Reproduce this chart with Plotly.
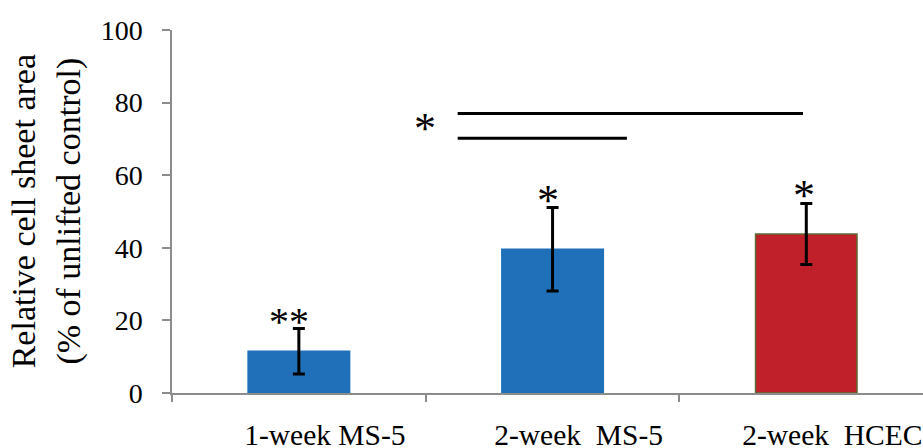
import plotly.graph_objects as go

categories = ["1-week MS-5", "2-week\u00a0 MS-5", "2-week\u00a0 HCEC"]
values = [11.5, 39.6, 43.8]
errors = [6.3, 11.5, 8.4]
bar_colors = ["#1F70B8", "#1F70B8", "#C0202A"]
bar_line_colors = ["#1F70B8", "#1F70B8", "#5E6B34"]
y_ticks = [0, 20, 40, 60, 80, 100]

# significance markers
star_text = ["**", "*", "*", "*"]
star_x = [-0.04, 0.98, 1.99, 0.497]
star_y = [19.8, 53.0, 54.5, 72.8]
star_size = [40, 44, 44, 44]

# comparison bars: (x0, x1, y)
sig_lines = [(0.626, 1.987, 77.0), (0.626, 1.293, 70.2)]

FONT = "Liberation Serif, Times New Roman, serif"

fig = go.Figure()
fig.add_trace(go.Bar(
    x=list(range(len(categories))),
    y=values,
    width=0.4,
    marker=dict(color=bar_colors, line=dict(color=bar_line_colors, width=1.5)),
    error_y=dict(type="data", array=errors, visible=True, color="black", thickness=3, width=6),
    showlegend=False,
))

for t, x, y, s in zip(star_text, star_x, star_y, star_size):
    fig.add_annotation(x=x, y=y, text=t, showarrow=False, xanchor="center", yanchor="middle",
                       font=dict(family=FONT, size=s, color="black"))

for x0, x1, y in sig_lines:
    fig.add_shape(type="line", x0=x0, x1=x1, y0=y, y1=y, xref="x", yref="y",
                  line=dict(color="black", width=3))

fig.add_annotation(x=-0.168, y=0.5, xref="paper", yref="paper",
                   text="Relative cell sheet area<br>(% of unlifted control)",
                   textangle=-90, showarrow=False, xanchor="center", yanchor="middle",
                   font=dict(family=FONT, size=34, color="black"))

fig.update_layout(
    width=923, height=448,
    margin=dict(l=172, r=0, t=30, b=55, autoexpand=False),
    paper_bgcolor="white", plot_bgcolor="white",
    font=dict(family=FONT, size=28, color="black"),
    bargap=0.6,
)
fig.update_xaxes(
    range=[-0.5, 2.46], automargin=False,
    tickmode="array", tickvals=list(range(len(categories))), ticktext=categories,
    showline=True, linecolor="#8c8c8c", linewidth=1.5,
    ticks="", showgrid=False, zeroline=False,
    ticklabelstandoff=15, ticklabelshift=26,
    tickfont=dict(family=FONT, size=29.5, color="black"),
)
# boundary ticks on x axis
fig.update_layout(xaxis2=dict(overlaying="x", range=[-0.5, 2.46], tickmode="array",
                              tickvals=[-0.5, 0.5, 1.5], ticktext=["", "", ""],
                              ticks="outside", ticklen=8, tickcolor="#8c8c8c", tickwidth=1.5,
                              showgrid=False, zeroline=False, side="bottom", anchor="y",
                              showline=False, automargin=False))
fig.add_trace(go.Scatter(x=[None], y=[None], xaxis="x2", showlegend=False))
fig.update_yaxes(
    range=[0, 100], tickmode="array", tickvals=y_ticks, automargin=False,
    showline=True, linecolor="#8c8c8c", linewidth=1.5,
    ticks="outside", ticklen=8, tickcolor="#8c8c8c", tickwidth=1.5,
    showgrid=False, zeroline=False,
    ticklabelstandoff=14,
    tickfont=dict(family=FONT, size=28, color="black"),
)

fig.write_html("out.html", config={"displayModeBar": False},
               post_script="document.body.style.margin='0';document.body.style.padding='0';")
